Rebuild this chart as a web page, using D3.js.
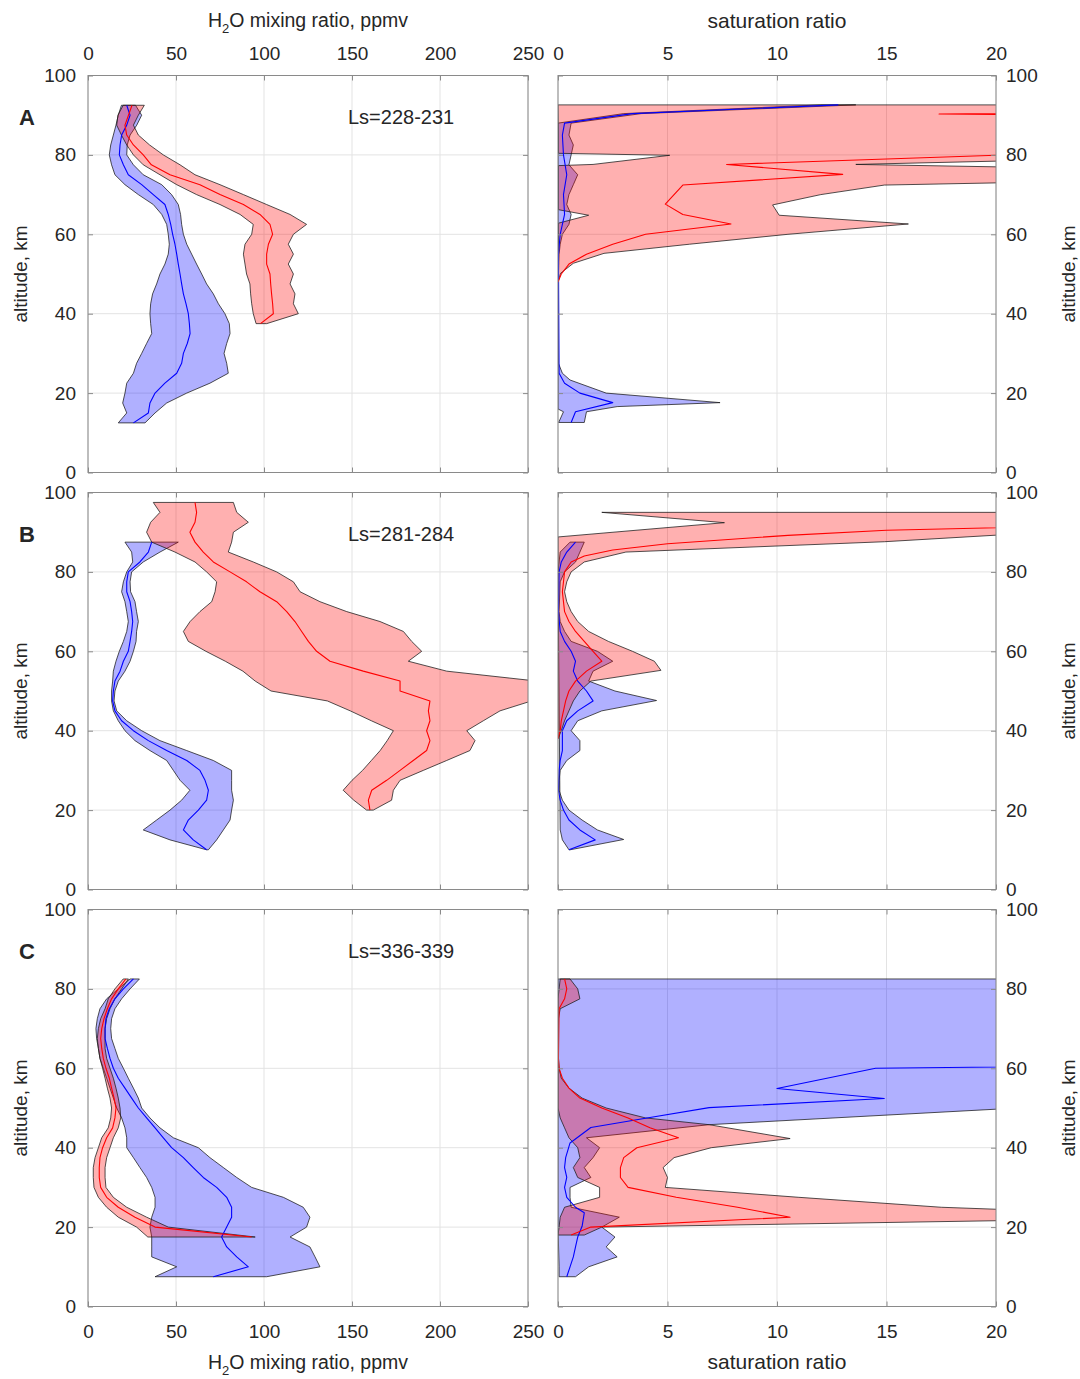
<!DOCTYPE html>
<html>
<head>
<meta charset="utf-8">
<script src="https://cdn.jsdelivr.net/npm/d3@7"></script>
<style>
  body { margin: 0; background: #fff; }
  svg text { font-family: "Liberation Sans", Arial, Helvetica, sans-serif; fill: #262626; }
</style>
</head>
<body>
<svg id="chart" width="1080" height="1379"></svg>
<script>
// ---------- axis ticks and labels ----------
const altTicks = [0, 20, 40, 60, 80, 100];
const mixTicks = [0, 50, 100, 150, 200, 250];
const satTicks = [0, 5, 10, 15, 20];
const panelLetters = ["A", "B", "C"];
const seasonLabels = ["Ls=228-231", "Ls=281-284", "Ls=336-339"];

// ---------- H2O mixing ratio profiles: [altitude km, lower, mean, upper] (ppmv) ----------
const mixA_red = [
  [92.5, 20, 25, 32], [90, 17, 23, 28.6], [87.5, 16.3, 21, 25.8], [85, 19, 22, 28.6],
  [82.5, 22, 25.8, 35], [80, 25.8, 31.4, 42.8], [77.5, 31.4, 36, 52.3], [75, 40.9, 46.6, 60.8],
  [72.5, 50.4, 63.6, 75], [70, 61.7, 75, 88.3], [67.5, 75, 88.3, 101.5], [65, 86.4, 97.7, 114.8],
  [62.5, 93.9, 103.4, 124.2], [60, 93, 104.9, 116.7], [57.5, 89.2, 102.5, 113.8], [55, 88.3, 101.5, 116.7],
  [52.5, 89.2, 101.5, 113.8], [50, 90.1, 103.4, 116.7], [47.5, 92, 103.8, 114.8], [45, 92.4, 104.3, 117.6],
  [42.5, 93, 104.9, 116.7], [40, 93.9, 105.3, 119.5], [37.5, 95.5, 98, 101.5]
];
const mixA_blue = [
  [92.5, 19, 22, 27], [90, 17.2, 23.9, 30.5], [87.5, 15.9, 22, 27.7], [85, 14.4, 19.1, 23.9],
  [82.5, 12.9, 18.2, 22.3], [80, 12.1, 17.8, 22], [77.5, 13.4, 20.1, 25.8], [75, 15.3, 22.9, 31.4],
  [72.5, 21, 30.5, 41.9], [70, 28.6, 37.1, 47.5], [67.5, 37.1, 43.7, 51.3], [65, 41.9, 45.6, 52.6],
  [62.5, 44.7, 47, 53.2], [60, 45.6, 48.1, 54.2], [57.5, 46.2, 49.4, 56.1], [55, 45.6, 50.4, 58.9],
  [52.5, 43.7, 51.3, 61.7], [50, 40.9, 52.3, 64.6], [47.5, 39, 53.2, 67.4], [45, 36.7, 54.2, 71.2],
  [42.5, 35.6, 55.7, 74.1], [40, 35.2, 57, 77.8], [37.5, 35.6, 57.6, 80.3], [35, 36.2, 58, 80.7],
  [32.5, 33.3, 56.4, 78.8], [30, 30.5, 54.2, 77.3], [27.5, 27.6, 53.2, 78.8], [25, 25.8, 50.4, 79.7],
  [22.5, 22, 43.7, 69.3], [20, 21, 38.1, 56.1], [17.5, 19.7, 35.2, 44.7], [15, 22, 34.3, 38.1],
  [12.5, 17.2, 25.8, 32.4]
];
const mixB_red = [
  [97.5, 37.1, 60.8, 82.6], [95, 40.9, 61.7, 84.5], [92.5, 35.6, 60.8, 91.1], [90, 33.3, 57.9, 82.6],
  [87.5, 36.2, 60.8, 81.6], [85, 49.4, 65.5, 79.7], [82.5, 60.8, 71.2, 93.9], [80, 67.4, 80.7, 107.2],
  [77.5, 73.1, 90.1, 116.7], [75, 72.2, 97.7, 120.5], [72.5, 70.3, 107.2, 131.8], [70, 63.6, 112.9, 147],
  [67.5, 58, 117.6, 165.9], [65, 54.2, 121.4, 179.2], [62.5, 57, 125.2, 183.9], [60, 67, 129.9, 189.6],
  [57.5, 78, 137.5, 182], [55, 88, 156.4, 203.8], [52.5, 95, 177.3, 255], [50, 104, 177.3, 262],
  [47.5, 136, 194.3, 252], [45, 149, 193.4, 234.1], [42.5, 161, 194.3, 224.6], [40, 173.5, 192.4, 215.2],
  [37.5, 170, 194.3, 219.9], [35, 166, 192.4, 217], [32.5, 161, 184.8, 203.8], [30, 156, 177.3, 190.5],
  [27.5, 150, 169.7, 177.3], [25, 145, 161.2, 173.5], [22.5, 151, 159.3, 172.5], [20, 158.3, 160.2, 162.1]
];
const mixB_blue = [
  [87.5, 21, 36.2, 51.3], [85, 24.8, 34.3, 40.9], [82.5, 25.4, 29.5, 31.4], [80, 22, 22.9, 24.8],
  [77.5, 20.1, 22, 23.9], [75, 19.1, 22, 24.2], [72.5, 21, 23.9, 26.7], [70, 22, 24.8, 27.6],
  [67.5, 22.9, 25.4, 28.6], [65, 22, 24.8, 27.6], [62.5, 20.1, 23.9, 27.3], [60, 17.8, 22.9, 25.8],
  [57.5, 15.9, 20.1, 23.9], [55, 14.4, 18.2, 21], [52.5, 14, 15.3, 17.2], [50, 13.4, 14.4, 15.3],
  [47.5, 13.4, 14, 14.8], [45, 14.4, 15.3, 16.3], [42.5, 17.2, 19.1, 22], [40, 21, 25.8, 30.5],
  [37.5, 26.7, 34.3, 40.9], [35, 35.2, 44.7, 56.1], [32.5, 44.7, 56.1, 71.2], [30, 48.5, 63.6, 81.6],
  [27.5, 52.3, 66.5, 81.6], [25, 57.9, 68.4, 81.6], [22.5, 53.2, 67.4, 82.6], [20, 46.6, 62.7, 81.6],
  [17.5, 39, 57, 80.7], [15, 31.4, 54.2, 76.9], [12.5, 46.6, 59.8, 73.1], [10, 67.4, 67.4, 68.4]
];
const mixC_red = [
  [82.5, 20, 21.5, 23], [80, 15.3, 17.2, 19.1], [77.5, 11.5, 13.4, 15.3], [75, 9.7, 11, 12.5],
  [72.5, 7.2, 9.1, 10.6], [70, 5.9, 7.8, 9.7], [67.5, 5.3, 7.2, 9.7], [65, 5.9, 7.8, 9.7],
  [62.5, 6.8, 8.7, 10.6], [60, 8.3, 10.2, 12.5], [57.5, 9.7, 12.1, 14.4], [55, 11, 13.4, 15.9],
  [52.5, 12.5, 14.8, 17.2], [50, 13.4, 15.9, 18.2], [47.5, 12.9, 15.3, 18.6], [45, 11.5, 14, 17.2],
  [42.5, 7.8, 10.6, 14.4], [40, 5.9, 8.3, 12.5], [37.5, 4, 6.8, 10.6], [35, 3, 6.4, 9.7],
  [32.5, 3, 6.4, 9.7], [30, 3.4, 7.2, 10.2], [27.5, 5.9, 10.6, 14.4], [25, 10.6, 17.2, 22],
  [22.5, 17.2, 26.7, 33.3], [20, 27.6, 38.1, 45.6], [17.5, 34, 93, 95]
];
const mixC_blue = [
  [82.5, 23.9, 25.8, 29.2], [80, 17.2, 20.1, 23.9], [77.5, 10.6, 15.3, 19.1], [75, 6.8, 12.1, 15.3],
  [72.5, 5.3, 10.2, 13.4], [70, 4.5, 9.7, 12.9], [67.5, 4.9, 9.7, 13.4], [65, 5.9, 11, 15.3],
  [62.5, 6.8, 12.5, 17.2], [60, 8.7, 14.4, 20.1], [57.5, 10.6, 17.2, 22.9], [55, 12.5, 21, 25.8],
  [52.5, 14.4, 24.8, 28.6], [50, 16.3, 28.6, 30.5], [47.5, 19.1, 33.3, 35.2], [45, 21, 38.1, 40.9],
  [42.5, 22, 42.8, 48.5], [40, 22, 47.5, 62.7], [37.5, 25.8, 54.2, 69.3], [35, 29.5, 59.8, 76.9],
  [32.5, 33.3, 65.5, 84.5], [30, 36.2, 73.1, 93], [27.5, 38.1, 78.8, 111], [25, 38.1, 81.6, 122.3],
  [22.5, 36.2, 81.6, 126.1], [20, 35.2, 78.8, 124.2], [17.5, 36.2, 75.9, 114.8], [15, 36.2, 78.8, 126.1],
  [12.5, 36.2, 84.5, 129], [10, 50.4, 91.1, 131.8], [7.5, 38.1, 71.2, 101.5]
];

// ---------- saturation ratio profiles: each edge as [altitude km, value] ----------
const satA_red_lo = [[92.6, 0], [85, 0.02], [80.4, 0.02], [79.9, 5.1], [77.6, 1.6], [77.3, 0.02],
  [66.2, 0.02], [64.8, 1.4], [62.8, 0.02], [55, 0.02], [48, 0]];
const satA_red_mid = [[92.6, 60], [90.3, 17.4], [87.8, 80], [82.5, 60], [80.1, 21], [77.6, 7.7],
  [75.1, 13], [72.4, 5.7], [67.6, 4.9], [65, 5.7], [62.6, 7.9], [60, 4.0], [57.5, 2.5], [55, 1.3],
  [52.5, 0.5], [50, 0.15], [48, 0]];
const satA_red_hi = [[92.6, 40], [80.1, 33], [77.6, 13.6], [75.1, 40], [72.4, 14.9], [70, 12],
  [67.4, 9.8], [64.8, 10.1], [62.6, 16], [60, 10.5], [57.5, 6], [55.2, 2.1], [52.7, 0.7],
  [50.2, 0.12], [48, 0]];
const satA_blue_lo = [[92.6, 12], [90.4, 3.0], [88, 0], [16, 0], [15.3, 0.25], [12.6, 0.03]];
const satA_blue_mid = [[92.6, 12.8], [90.4, 3.4], [88, 0.3], [85, 0.2], [80, 0.25], [75, 0.4],
  [70, 0.25], [65, 0.3], [60, 0.1], [55, 0.02], [25, 0.05], [22.5, 0.3], [20, 1.0], [17.6, 2.5],
  [15.3, 0.8], [12.6, 0.6]];
const satA_blue_hi = [[92.6, 13.6], [90.4, 3.8], [88, 0.6], [85, 0.5], [82.5, 0.7], [80, 0.6],
  [77.5, 0.5], [75, 0.9], [72.5, 0.7], [70, 0.5], [67.5, 0.4], [65, 0.6], [62.5, 0.5], [60, 0.2],
  [57.5, 0.1], [55, 0.05], [50, 0.02], [27.5, 0.02], [25, 0.2], [23.3, 0.55], [20, 2.2],
  [17.6, 7.4], [16.6, 2.7], [15.3, 1.3], [12.6, 1.2]];

const satB_red_lo = [[95, 2.0], [92.4, 7.6], [88.8, 0], [38, 0]];
const satB_red_mid = [[95, 40], [92.4, 30], [90.5, 15], [89.2, 10.5], [87.1, 5], [85.5, 2.5],
  [84, 1.2], [82.5, 0.6], [80, 0.3], [75, 0.2], [70, 0.3], [67.5, 0.5], [65, 0.8], [62.5, 1.2],
  [60, 1.6], [57.5, 2.0], [55, 1.3], [52.5, 0.8], [50, 0.5], [47.5, 0.35], [45, 0.25],
  [42.5, 0.15], [40, 0.1], [38, 0]];
const satB_red_hi = [[95, 40], [92.4, 40], [89.9, 22], [87.6, 14.9], [85, 3.1], [82.5, 1.2],
  [80, 0.6], [77.5, 0.4], [75, 0.3], [72.5, 0.4], [70, 0.6], [67.5, 0.9], [65, 1.4], [62.5, 2.3],
  [60, 3.4], [57.5, 4.4], [55.2, 4.7], [52.5, 1.5], [50, 1.0], [47.5, 0.7], [45, 0.5],
  [42.5, 0.3], [40, 0.15], [38, 0]];
const satB_blue_lo = [[87.5, 0.55], [85, 0.1], [82.5, 0.05], [80, 0], [15, 0.1], [12.5, 0.2], [10, 0.5]];
const satB_blue_mid = [[87.5, 0.8], [85, 0.4], [82.5, 0.15], [80, 0.05], [70, 0.02], [65, 0.1],
  [62.5, 0.3], [60, 0.6], [57.5, 0.8], [55, 0.7], [52.5, 0.9], [50, 1.3], [47.5, 1.6], [45, 0.9],
  [42.5, 0.4], [40, 0.2], [35, 0.2], [32.5, 0.1], [30, 0.05], [25, 0.02], [22.5, 0.1], [20, 0.25],
  [17.5, 0.5], [15, 1.0], [12.5, 1.7], [10, 0.5]];
const satB_blue_hi = [[87.5, 1.2], [85, 1.0], [82.5, 0.8], [80, 0.3], [77.5, 0.1], [70, 0.05],
  [67.5, 0.1], [65, 0.3], [62.5, 0.6], [60, 1.8], [57.5, 2.5], [55, 1.6], [52.5, 1.4], [50, 2.6],
  [47.6, 4.5], [45, 2.0], [42.5, 0.9], [40, 0.6], [37.5, 1.0], [35, 1.0], [32.5, 0.4], [30, 0.1],
  [27.5, 0.05], [25, 0.05], [22.5, 0.2], [20, 0.5], [17.5, 1.1], [15, 1.8], [12.6, 3.0], [10, 0.55]];

const satC_red_lo = [[82.5, 0.1], [80, 0.05], [77.5, 0], [50, 0], [47.5, 0.1], [45, 0.3],
  [42.5, 0.5], [40, 0.9], [37.5, 1.0], [35, 0.7], [32.5, 0.9], [30, 1.9], [27.5, 1.9], [25, 0.3],
  [22.5, 0.1], [20, 0.05], [18, 0]];
const satC_red_mid = [[82.5, 0.3], [80, 0.4], [77.5, 0.3], [75, 0.05], [62.5, 0.02], [60, 0.05],
  [57.5, 0.2], [55, 0.5], [52.5, 1.0], [50, 2.0], [47.5, 3.2], [45, 4.2], [42.5, 5.5], [40, 3.6],
  [37.5, 3.0], [35, 2.85], [32.5, 2.85], [30, 3.2], [27.5, 5.4], [25, 8.2], [22.5, 10.6],
  [20, 1.5], [18, 0.6]];
const satC_red_hi = [[82.5, 0.55], [80, 0.9], [77.5, 1.0], [75, 0.1], [72.5, 0.02], [62.5, 0.02],
  [60, 0.05], [57.5, 0.15], [55, 0.5], [52.5, 1.1], [50, 2.2], [47.5, 4.0], [45.8, 6.9],
  [42.3, 10.6], [40, 7.0], [37.5, 5.3], [35, 4.8], [32.5, 5.0], [30, 4.9], [27.5, 11],
  [25, 17.5], [22.5, 30], [20, 2.0], [18, 1.2]];
const satC_blue_lo = [[82.5, 0], [20, 0], [10, 0.05], [7.5, 0.05]];
const satC_blue_mid = [[82.5, 60], [62.6, 60], [60, 14.5], [54.9, 10.0], [52.4, 14.9], [50.1, 6.9],
  [47.6, 4.2], [45.1, 1.5], [41.2, 0.55], [37.5, 0.35], [35, 0.3], [32.5, 0.4], [30, 0.3],
  [27.5, 0.4], [25, 0.8], [23.6, 1.2], [20.2, 1.1], [17.5, 0.9], [15, 0.8], [12.5, 0.7],
  [10, 0.55], [7.5, 0.4]];
const satC_blue_hi = [[82.5, 60], [77.5, 80], [72.5, 60], [65, 80], [55, 60], [52.5, 40], [50, 21],
  [45.8, 6.9], [42.5, 1.3], [40, 1.9], [37.5, 1.6], [35, 1.2], [32.5, 1.5], [30, 0.55],
  [27.5, 0.55], [25, 0.6], [22.5, 2.8], [20, 2.0], [17.5, 2.6], [15, 2.2], [12.5, 2.7],
  [10, 1.4], [7.5, 0.8]];

// ---------- layout ----------
const svg = d3.select("#chart");
const colRange = { mix: [88, 528], sat: [558, 996] };
const rowRange = [[75.5, 472.5], [492.5, 889.5], [909.5, 1306.5]];
const xMix = d3.scaleLinear().domain([0, 250]).range(colRange.mix);
const xSat = d3.scaleLinear().domain([0, 20]).range(colRange.sat);

const FILL = { red: "#ff0000", blue: "#0000ff" };
const LINE = { red: "#ff0000", blue: "#0000ff" };
const AXIS_COLOR = "#8a8a8a";
const GRID_COLOR = "#e3e3e3";

function tableEdges(t) {
  return {
    lo: t.map(r => [r[0], r[1]]),
    mid: t.map(r => [r[0], r[2]]),
    hi: t.map(r => [r[0], r[3]])
  };
}

const rows = [
  {
    mix: { blue: tableEdges(mixA_blue), red: tableEdges(mixA_red) },
    sat: { blue: { lo: satA_blue_lo, mid: satA_blue_mid, hi: satA_blue_hi },
           red:  { lo: satA_red_lo,  mid: satA_red_mid,  hi: satA_red_hi } }
  },
  {
    mix: { blue: tableEdges(mixB_blue), red: tableEdges(mixB_red) },
    sat: { blue: { lo: satB_blue_lo, mid: satB_blue_mid, hi: satB_blue_hi },
           red:  { lo: satB_red_lo,  mid: satB_red_mid,  hi: satB_red_hi } }
  },
  {
    mix: { blue: tableEdges(mixC_blue), red: tableEdges(mixC_red) },
    sat: { blue: { lo: satC_blue_lo, mid: satC_blue_mid, hi: satC_blue_hi },
           red:  { lo: satC_red_lo,  mid: satC_red_mid,  hi: satC_red_hi } }
  }
];

const defs = svg.append("defs");

function styleAxis(sel, showLabels) {
  sel.select(".domain").remove();
  sel.selectAll(".tick line").attr("stroke", AXIS_COLOR).attr("stroke-width", 1);
  sel.selectAll(".tick text")
    .attr("font-size", 19)
    .attr("font-family", '"Liberation Sans", Arial, sans-serif')
    .attr("fill", "#262626")
    .style("display", showLabels ? null : "none");
}

function drawPanel(row, kind) {
  const x = kind === "mix" ? xMix : xSat;
  const xTicks = kind === "mix" ? mixTicks : satTicks;
  const [top, bottom] = rowRange[row];
  const y = d3.scaleLinear().domain([0, 100]).range([bottom, top]);
  const [x0, x1] = x.range();
  const g = svg.append("g").attr("class", `panel ${kind}-${row}`);

  g.append("rect").attr("x", x0).attr("y", top).attr("width", x1 - x0).attr("height", bottom - top)
    .attr("fill", "#fff");

  // grid
  g.append("g").selectAll("line").data(xTicks).join("line")
    .attr("x1", d => x(d)).attr("x2", d => x(d)).attr("y1", top).attr("y2", bottom)
    .attr("stroke", GRID_COLOR).attr("stroke-width", 1);
  g.append("g").selectAll("line").data(altTicks).join("line")
    .attr("x1", x0).attr("x2", x1).attr("y1", d => y(d)).attr("y2", d => y(d))
    .attr("stroke", GRID_COLOR).attr("stroke-width", 1);

  const clipId = `clip-${kind}-${row}`;
  defs.append("clipPath").attr("id", clipId).append("rect")
    .attr("x", x0).attr("y", top).attr("width", x1 - x0).attr("height", bottom - top);
  const plot = g.append("g").attr("clip-path", `url(#${clipId})`);

  const edge = d3.line().x(d => x(d[1])).y(d => y(d[0]));
  const bands = rows[row][kind];

  // spread envelopes
  ["blue", "red"].forEach(c => {
    const b = bands[c];
    const ring = b.lo.concat(b.hi.slice().reverse());
    plot.append("path")
      .attr("d", edge(ring) + "Z")
      .attr("fill", FILL[c]).attr("fill-opacity", 0.31)
      .attr("stroke", "#1a1a1a").attr("stroke-opacity", 0.85).attr("stroke-width", 0.9)
      .attr("stroke-linejoin", "round");
  });
  // mean profiles
  ["blue", "red"].forEach(c => {
    plot.append("path")
      .attr("d", edge(bands[c].mid))
      .attr("fill", "none").attr("stroke", LINE[c]).attr("stroke-width", 1.1)
      .attr("stroke-linejoin", "round");
  });

  // frame
  g.append("rect").attr("x", x0).attr("y", top).attr("width", x1 - x0).attr("height", bottom - top)
    .attr("fill", "none").attr("stroke", AXIS_COLOR).attr("stroke-width", 1);

  // axes with inward ticks
  const tl = 5;
  g.append("g").attr("transform", `translate(${x0},0)`)
    .call(d3.axisLeft(y).tickValues(altTicks).tickSize(-tl).tickSizeOuter(0).tickPadding(12))
    .call(s => styleAxis(s, kind === "mix"));
  g.append("g").attr("transform", `translate(${x1},0)`)
    .call(d3.axisRight(y).tickValues(altTicks).tickSize(-tl).tickSizeOuter(0).tickPadding(10))
    .call(s => styleAxis(s, kind === "sat"));
  g.append("g").attr("transform", `translate(0,${top})`)
    .call(d3.axisTop(x).tickValues(xTicks).tickSize(-tl).tickSizeOuter(0).tickPadding(16))
    .call(s => styleAxis(s, row === 0));
  g.append("g").attr("transform", `translate(0,${bottom})`)
    .call(d3.axisBottom(x).tickValues(xTicks).tickSize(-tl).tickSizeOuter(0).tickPadding(18))
    .call(s => styleAxis(s, row === 2));

  // side titles
  const cy = (top + bottom) / 2;
  if (kind === "mix") {
    svg.append("text").attr("transform", `translate(27,${cy}) rotate(-90)`)
      .attr("text-anchor", "middle").attr("font-size", 19).text("altitude, km");
    svg.append("text").attr("x", 27).attr("y", top + 49)
      .attr("text-anchor", "middle").attr("font-size", 22).attr("font-weight", "bold")
      .text(panelLetters[row]);
    svg.append("text").attr("x", 348).attr("y", top + 48.5)
      .attr("font-size", 20).text(seasonLabels[row]);
  } else {
    svg.append("text").attr("transform", `translate(1075,${cy}) rotate(-90)`)
      .attr("text-anchor", "middle").attr("font-size", 19).text("altitude, km");
  }
}

for (let r = 0; r < 3; r++) {
  drawPanel(r, "mix");
  drawPanel(r, "sat");
}

// column titles (top and bottom)
function mixTitle(yBase) {
  const t = svg.append("text").attr("x", d3.mean(colRange.mix)).attr("y", yBase)
    .attr("text-anchor", "middle").attr("font-size", 19.5);
  t.append("tspan").text("H");
  t.append("tspan").attr("font-size", 13).attr("dy", 6).text("2");
  t.append("tspan").attr("dy", -6).text("O mixing ratio, ppmv");
}
function satTitle(yBase) {
  svg.append("text").attr("x", d3.mean(colRange.sat)).attr("y", yBase)
    .attr("text-anchor", "middle").attr("font-size", 21).text("saturation ratio");
}
mixTitle(27);
satTitle(28);
mixTitle(1369);
satTitle(1369);
</script>
</body>
</html>
